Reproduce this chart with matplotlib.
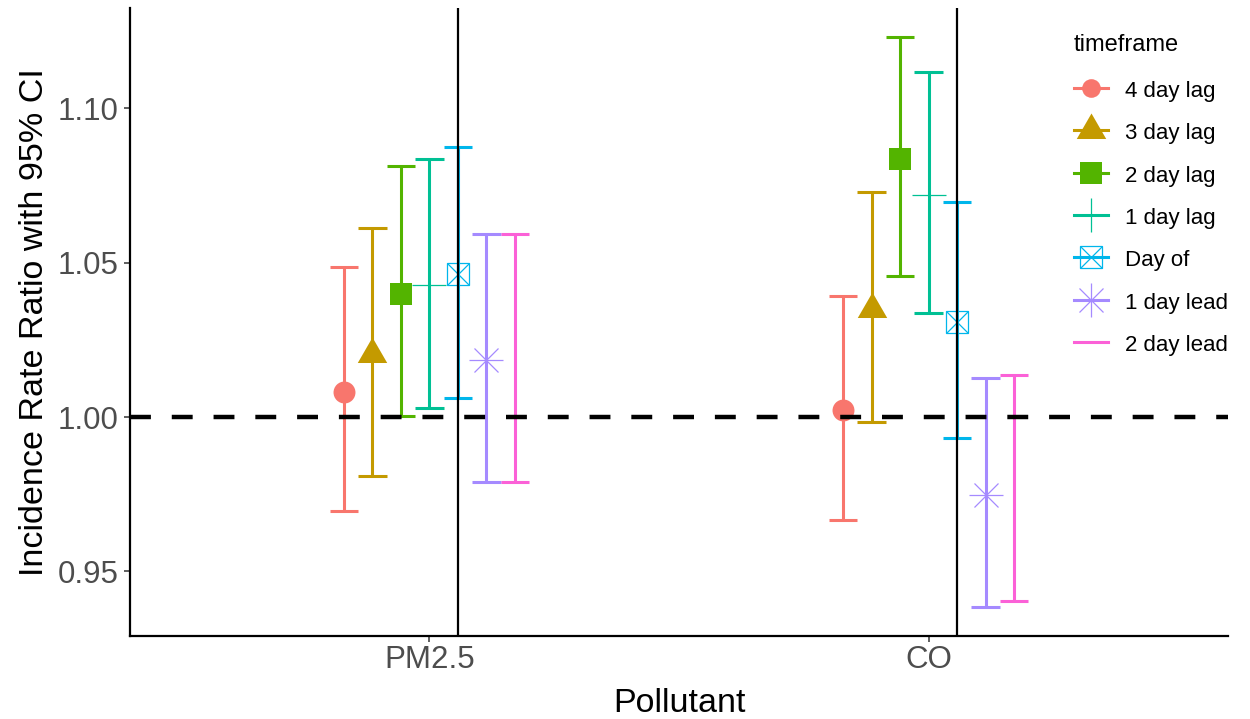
import matplotlib
matplotlib.use("Agg")
import matplotlib.pyplot as plt
from matplotlib.path import Path
from matplotlib.lines import Line2D
import numpy as np

plt.rcParams['font.family'] = ['Liberation Sans', 'DejaVu Sans']

# ---- data ----
pollutants = ["PM2.5", "CO"]
timeframes = ["4 day lag", "3 day lag", "2 day lag", "1 day lag", "Day of", "1 day lead", "2 day lead"]
colors = ["#F8766D", "#C49A00", "#53B400", "#00C094", "#00B6EB", "#A58AFF", "#FB61D7"]

pm25_est = [1.0082, 1.0203, 1.0399, 1.0427, 1.0462, 1.0184, 1.0190]
pm25_lo = [0.9696, 0.9809, 1.0003, 1.0029, 1.0063, 0.9790, 0.9790]
pm25_hi = [1.0485, 1.0613, 1.0812, 1.0837, 1.0876, 1.0592, 1.0592]

co_est = [1.0023, 1.0350, 1.0837, 1.0721, 1.0309, 0.9748, 0.9770]
co_lo = [0.9667, 0.9985, 1.0456, 1.0338, 0.9933, 0.9383, 0.9403]
co_hi = [1.0392, 1.0729, 1.1233, 1.1118, 1.0698, 1.0128, 1.0136]

reference_line = 1.0
yticks = [0.95, 1.00, 1.05, 1.10]

# ---- styling ----
tri = Path([(0, 1), (-0.866, -0.5), (0.866, -0.5), (0, 1)],
           [Path.MOVETO, Path.LINETO, Path.LINETO, Path.CLOSEPOLY])

def marker_specs(i, circ=1.0):
    c = colors[i]
    specs = [
        [dict(marker='o', ms=15.8 * circ, mfc=c, mec=c, mew=0)],
        [dict(marker=tri, ms=24.5, mfc=c, mec=c, mew=0)],
        [dict(marker='s', ms=16.5, mfc=c, mec=c, mew=0)],
        [dict(marker='+', ms=23.8, mec=c, mew=0.9)],
        [dict(marker='s', ms=16.0, mfc='none', mec=c, mew=0.9),
         dict(marker='x', ms=16.0, mec=c, mew=0.9)],
        [dict(marker='+', ms=23.8, mec=c, mew=0.9),
         dict(marker='x', ms=16.8, mec=c, mew=0.9)],
        [],
    ]
    return specs[i]

W, H = 1250, 719
fig = plt.figure(figsize=(W / 100, H / 100), dpi=100)
ax = fig.add_axes([130 / W, 83 / H, 1098 / W, 628 / H])

n = len(timeframes)
dodge = 0.4
step = dodge / n
cap = step / 2
xcat = np.arange(1, len(pollutants) + 1)

est = np.array([pm25_est, co_est])
lo = np.array([pm25_lo, co_lo])
hi = np.array([pm25_hi, co_hi])

err_lw = 2.2
handles = []
for i, tf in enumerate(timeframes):
    xs = xcat + (i - (n - 1) / 2) * step
    c = colors[i]
    ax.vlines(xs, lo[:, i], hi[:, i], colors=c, lw=err_lw, zorder=2)
    ax.hlines(lo[:, i], xs - cap, xs + cap, colors=c, lw=err_lw, zorder=2)
    ax.hlines(hi[:, i], xs - cap, xs + cap, colors=c, lw=err_lw, zorder=2)
    for spec in marker_specs(i):
        ax.plot(xs, est[:, i], ls='none', zorder=3, **spec)
    hparts = [Line2D([], [], color=c, lw=err_lw)]
    for spec in marker_specs(i, circ=0.85):
        hparts.append(Line2D([], [], ls='none', **spec))
    handles.append(tuple(hparts))

# reference dashed line
hl = ax.axhline(reference_line, color='black', lw=3.2, zorder=4)
hl.set_dashes((4.7, 4.7))

# vertical lines at "Day of" positions
iday = timeframes.index("Day of")
for xc in xcat:
    ax.axvline(xc + (iday - (n - 1) / 2) * step, color='black', lw=1.6, zorder=4)

ymin = min(lo.min(), reference_line)
ymax = max(hi.max(), reference_line)
pad = (ymax - ymin) * 0.05
ax.set_ylim(ymin - pad, ymax + pad)
ax.set_xlim(0.4, 2.6)

ax.set_xticks(xcat)
ax.set_xticklabels(pollutants)
ax.set_yticks(yticks)
ax.set_yticklabels([f"{v:.2f}" for v in yticks])

for s in ['top', 'right']:
    ax.spines[s].set_visible(False)
for s in ['left', 'bottom']:
    ax.spines[s].set_linewidth(1.6)
    ax.spines[s].set_color('black')

ax.tick_params(axis='both', length=4.3, width=1.1, color='#333333',
               labelcolor='#4D4D4D', labelsize=22.5)
ax.tick_params(axis='x', pad=2)
ax.tick_params(axis='y', pad=4)

ax.set_xlabel("Pollutant", fontsize=24.5, color='black')
ax.set_ylabel("Incidence Rate Ratio with 95% CI", fontsize=24.5, color='black')
ax.xaxis.set_label_coords(0.5, -(703 - 636) / 628)
ax.xaxis.label.set_va('center')
ax.yaxis.set_label_coords(-(130 - 35) / 1098, 0.5)
ax.yaxis.label.set_va('center')

leg = ax.legend(handles, timeframes, title="timeframe", frameon=False,
                loc='upper left', bbox_to_anchor=(1074 / W, (H - 34) / H),
                bbox_transform=fig.transFigure,
                fontsize=16, title_fontsize=17, borderpad=0, borderaxespad=0,
                handlelength=1.55, handleheight=1.0, handletextpad=0.75,
                labelspacing=0.89, alignment='left')
leg._legend_box.sep = 16.8

fig.savefig("out.png", dpi=100)
